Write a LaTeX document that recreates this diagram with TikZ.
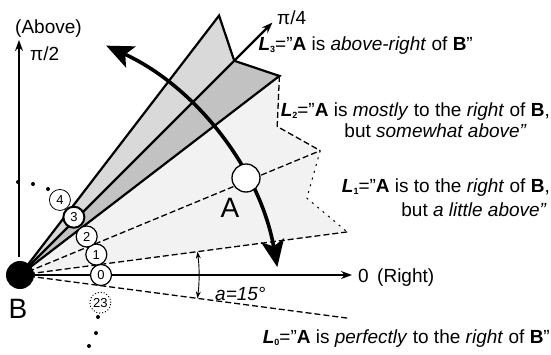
\documentclass[tikz,border=0pt]{standalone}
\usepackage{fontspec}
\setmainfont{Liberation Sans}
\usetikzlibrary{arrows.meta}
\tikzset{
  sectline/.style={line width=1.3pt,dash pattern=on 6pt off 3pt},
  rayline/.style={line width=2.2pt,line join=miter},
  numcirc/.style={circle,draw,fill=white,inner sep=0pt,minimum size=21pt,font=\fontsize{13}{13}\selectfont},
  lbl/.style={font=\fontsize{19}{21}\selectfont,inner sep=0pt},
  biglbl/.style={font=\fontsize{28}{28}\selectfont,inner sep=0pt},
  bigtip/.tip={Stealth[length=27pt,width=23pt,inset=6pt]},
  axtip/.tip={Stealth[length=11pt,width=8pt]},
  angtip/.tip={Stealth[length=7pt,width=5pt]}
}
\newcommand{\Lsub}[1]{{\bfseries\itshape L}\raisebox{-2.5pt}{\fontsize{9}{9}\selectfont\bfseries #1}}
\begin{document}
\begin{tikzpicture}[x=1pt,y=1pt]
  \useasboundingbox (-20,-79) rectangle (531,275);
  \coordinate (B) at (0,0);
  \coordinate (r0lo) at (-7.5:330); \coordinate (r0hi) at (7.5:330);
  \coordinate (n1) at (15:297); \coordinate (r1hi) at (22.5:325);
  \coordinate (n2) at (30:297); \coordinate (r2hi) at (37.5:327);
  \coordinate (n3) at (45:303); \coordinate (r3hi) at (52.5:327);
  \coordinate (O) at (-40,-45);
  \fill[gray!10] (B)--(r0hi)--(n1)--(r1hi)--(n2)--(r2hi)--cycle;
  \fill[gray!30] (B)--(n3)--(r3hi)--cycle;
  \fill[gray!48] (B)--(r2hi)--(n3)--cycle;
  \draw[sectline] (B)--(r0lo); \draw[sectline] (B)--(r0hi); \draw[sectline] (B)--(r1hi);
  \draw[sectline] (r2hi)--(n2)--(r1hi);
  \draw[line width=1pt,dash pattern=on 2pt off 5pt] (r1hi)--(n1)--(r0hi);
  \draw[rayline] (B)--(r3hi)--(n3)--(r2hi)--cycle;
  \draw[rayline,-{axtip}] (B)--(45:357) coordinate (quarter);
  \draw[line width=1.6pt,-{axtip}] (B)--(332,0) coordinate (right);
  \draw[line width=1.4pt,-{axtip}] (-1,18)--(-1,235) coordinate (up);
  \draw[line width=0.9pt,{angtip}-{angtip}] (-7.5:179) arc[start angle=-7.5,end angle=7.5,radius=179pt];
  \draw[line width=3.6pt,{bigtip}-{bigtip}] (O) ++(65.3:302) arc[start angle=65.3,end angle=10.1,radius=302pt];
  \node[circle,draw,fill=white,line width=1.3pt,minimum size=28pt,inner sep=0pt] (A) at (226,97) {};
  \fill (B) circle[radius=14pt];
  \foreach \n/\a/\r/\w in {0/0/81/1.2pt,1/15/79/1.2pt,2/30/77/1.2pt,3/47/79/2pt,4/62/85/0.8pt}
    \node[numcirc,line width=\w] (c\n) at (\a:\r) {\n};
  \node[numcirc,dotted,line width=1pt] (c23) at (-19:85) {23};
  \foreach \p in {(-2,93),(13,91),(28,86),(78,-42),(76,-58),(69,-71)}
    \fill \p circle[radius=2pt];
  \node[lbl,anchor=base west] (above) at (-5,242) {(Above)};
  \node[lbl,anchor=base west] (half) at (10,215) {π/2};
  \node[lbl,anchor=base west] (quartlbl) at (257,251) {π/4};
  \node[lbl,anchor=base east] (L3) at (453,225) {\Lsub{3}="\textbf{A} is \textit{above-right} of \textbf{B}"};
  \node[lbl,anchor=base east] (L2a) at (530,159) {\Lsub{2}="\textbf{A} is \textit{mostly} to the \textit{right} of \textbf{B},};
  \node[lbl,anchor=base east] (L2b) at (507,138) {but \textit{somewhat above"}};
  \node[lbl,anchor=base east] (L1a) at (530,83) {\Lsub{1}="\textbf{A} is to the \textit{right} of \textbf{B},};
  \node[lbl,anchor=base east] (L1b) at (527,59) {but \textit{a little above"}};
  \node[lbl,anchor=base west] (rightlbl) at (338,-7) {0 \,(Right)};
  \node[lbl,anchor=base east] (L0) at (530,-68) {\Lsub{0}="\textbf{A} is \textit{perfectly} to the \textit{right} of \textbf{B}"};
  \node[lbl,font=\fontsize{19}{21}\selectfont\itshape,anchor=base west] (alpha) at (195,-25) {a=15°};
  \node[biglbl,anchor=base] (Blbl) at (-2,-43) {B};
  \node[biglbl,anchor=base] (Albl) at (210,58) {A};
\end{tikzpicture}
\end{document}
